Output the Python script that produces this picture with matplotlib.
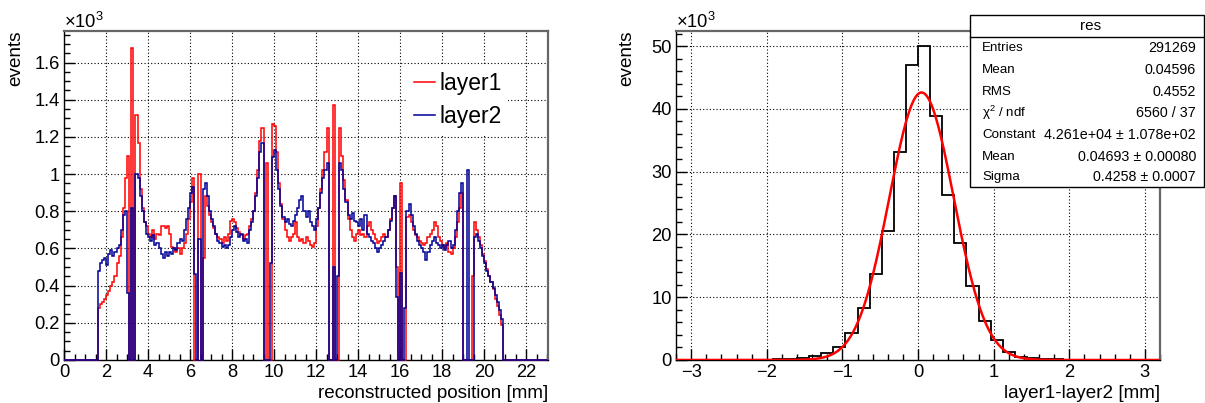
import numpy as np
import matplotlib
matplotlib.use("Agg")
import matplotlib.pyplot as plt
from matplotlib.ticker import MultipleLocator, FuncFormatter
from matplotlib.lines import Line2D
from matplotlib.patches import Rectangle

plt.rcParams["font.family"] = ["Liberation Sans", "DejaVu Sans"]
plt.rcParams["mathtext.fontset"] = "custom"
plt.rcParams["mathtext.rm"] = "Liberation Sans"
plt.rcParams["mathtext.it"] = "Liberation Sans:italic"

# ---------------- data ----------------
# reconstructed position histograms, 0.1 mm bins, in units of 10^3 events
pos_range = (0.0, 23.0)
pos_bin_width = 0.1
pos_first_bin = 1.6  # lower edge of first filled bin

layer1 = [
    0.28, 0.30, 0.31, 0.33,                                              # 1.6-1.9
    0.35, 0.37, 0.40, 0.42, 0.45, 0.52, 0.56, 0.66, 0.82, 0.98,          # 2.0-2.9
    1.10, 0.00, 1.68, 0.00, 1.32, 1.17, 0.92, 0.82, 0.74, 0.72,          # 3.0-3.9
    0.68, 0.66, 0.70, 0.65, 0.68, 0.67, 0.72, 0.72, 0.71, 0.72,          # 4.0-4.9
    0.68, 0.61, 0.60, 0.58, 0.60, 0.57, 0.60, 0.63, 0.68, 0.76,          # 5.0-5.9
    0.85, 0.98, 0.00, 0.00, 1.00, 0.00, 0.55, 0.88, 0.83, 0.78,          # 6.0-6.9
    0.74, 0.71, 0.68, 0.66, 0.65, 0.63, 0.66, 0.64, 0.68, 0.75,          # 7.0-7.9
    0.76, 0.74, 0.71, 0.69, 0.67, 0.65, 0.67, 0.68, 0.72, 0.76,          # 8.0-8.9
    0.80, 0.90, 1.02, 1.18, 1.25, 0.00, 1.06, 0.00, 0.00, 1.27,          # 9.0-9.9
    1.26, 1.12, 0.95, 0.84, 0.76, 0.70, 0.66, 0.64, 0.66, 0.68,          # 10.0-10.9
    0.74, 0.66, 0.64, 0.65, 0.63, 0.66, 0.64, 0.62, 0.61, 0.63,          # 11.0-11.9
    0.72, 0.82, 0.92, 1.02, 1.12, 1.25, 0.00, 0.00, 1.37, 0.00,          # 12.0-12.9
    0.00, 1.25, 1.10, 0.97, 0.86, 0.76, 0.70, 0.66, 0.64, 0.68,          # 13.0-13.9
    0.70, 0.67, 0.68, 0.66, 0.72, 0.74, 0.70, 0.68, 0.65, 0.63,          # 14.0-14.9
    0.64, 0.66, 0.68, 0.66, 0.70, 0.76, 0.82, 0.88, 0.50, 0.00,          # 15.0-15.9
    0.95, 0.00, 0.00, 0.77, 0.78, 0.74, 0.70, 0.67, 0.66, 0.64,          # 16.0-16.9
    0.63, 0.62, 0.63, 0.66, 0.68, 0.70, 0.74, 0.72, 0.66, 0.64,          # 17.0-17.9
    0.62, 0.60, 0.63, 0.58, 0.57, 0.60, 0.66, 0.74, 0.82, 0.90,          # 18.0-18.9
    0.00, 0.00, 0.00, 0.00, 0.45, 0.74, 0.70, 0.66, 0.62, 0.57,          # 19.0-19.9
    0.53, 0.49, 0.45, 0.42, 0.38, 0.33, 0.29, 0.24, 0.19,                # 20.0-20.8
]

layer2 = [
    0.48, 0.52, 0.54, 0.55,                                              # 1.6-1.9
    0.51, 0.57, 0.59, 0.56, 0.58, 0.60, 0.62, 0.70, 0.78, 0.80,          # 2.0-2.9
    0.36, 0.00, 0.82, 0.00, 1.00, 0.98, 0.88, 0.80, 0.74, 0.68,          # 3.0-3.9
    0.66, 0.64, 0.67, 0.62, 0.63, 0.60, 0.57, 0.55, 0.58, 0.56,          # 4.0-4.9
    0.58, 0.57, 0.60, 0.59, 0.63, 0.65, 0.64, 0.70, 0.76, 0.82,          # 5.0-5.9
    0.90, 0.93, 0.46, 0.00, 0.65, 0.00, 0.92, 0.95, 0.88, 0.80,          # 6.0-6.9
    0.76, 0.72, 0.68, 0.64, 0.63, 0.61, 0.62, 0.60, 0.62, 0.66,          # 7.0-7.9
    0.70, 0.72, 0.69, 0.66, 0.68, 0.64, 0.65, 0.63, 0.70, 0.74,          # 8.0-8.9
    0.80, 0.88, 0.98, 1.12, 1.17, 0.00, 0.00, 0.00, 0.52, 1.09,          # 9.0-9.9
    1.13, 1.02, 0.92, 0.83, 0.77, 0.74, 0.76, 0.73, 0.72, 0.75,          # 10.0-10.9
    0.78, 0.82, 0.86, 0.88, 0.80, 0.77, 0.80, 0.74, 0.72, 0.70,          # 11.0-11.9
    0.76, 0.82, 0.90, 0.98, 1.02, 1.06, 0.00, 0.00, 0.50, 0.00,          # 12.0-12.9
    0.45, 1.06, 1.02, 0.92, 0.85, 0.78, 0.76, 0.79, 0.75, 0.74,          # 13.0-13.9
    0.72, 0.76, 0.70, 0.78, 0.68, 0.66, 0.64, 0.63, 0.60, 0.58,          # 14.0-14.9
    0.60, 0.62, 0.64, 0.66, 0.70, 0.75, 0.82, 0.88, 0.34, 0.00,          # 15.0-15.9
    0.47, 0.00, 0.28, 0.80, 0.84, 0.78, 0.72, 0.68, 0.64, 0.62,          # 16.0-16.9
    0.60, 0.58, 0.54, 0.58, 0.62, 0.64, 0.66, 0.63, 0.62, 0.60,          # 17.0-17.9
    0.62, 0.59, 0.62, 0.64, 0.60, 0.62, 0.70, 0.80, 0.90, 0.95,          # 18.0-18.9
    0.00, 0.00, 1.02, 0.00, 0.00, 0.66, 0.68, 0.64, 0.60, 0.56,          # 19.0-19.9
    0.52, 0.48, 0.45, 0.42, 0.39, 0.35, 0.31, 0.27, 0.22,                # 20.0-20.8
]
series_labels = ["layer1", "layer2"]

# residual histogram layer1-layer2: 40 bins over [-3.2, 3.2], in 10^3 events
res_range = (-3.2, 3.2)
res_counts_k = [
    0.000, 0.001, 0.002, 0.003, 0.006, 0.012, 0.025, 0.045, 0.080, 0.150,
    0.270, 0.600, 1.060, 2.100, 4.350, 8.300, 13.70, 20.60, 33.10, 47.00,
    50.00, 38.90, 26.30, 18.70, 11.80, 6.260, 3.130, 1.300, 0.550, 0.300,
    0.150, 0.080, 0.040, 0.020, 0.010, 0.005, 0.002, 0.001, 0.000, 0.000,
]

# gaussian fit result
fit_constant = 4.261e4
fit_mean = 0.04693
fit_sigma = 0.4258

stats_title = "res"
stats_names = ["Entries", "Mean", "RMS", r"χ$^{2}$ / ndf", "Constant", "Mean", "Sigma"]
stats_values = ["291269", "0.04596", "0.4552", "6560 / 37",
                "4.261e+04 ± 1.078e+02", "0.04693 ± 0.00080", "0.4258 ± 0.0007"]

# ---------------- layout helpers ----------------
W, H = 1205, 403
fig = plt.figure(figsize=(W / 100, H / 100), dpi=100)


def rect(l, t, r, b):
    return [l / W, 1 - b / H, (r - l) / W, (b - t) / H]


def fx(x):
    return x / W


def fy(y):
    return 1 - y / H


TICK_FS = 13.2
TITLE_FS = 13.6
red = "#ff0000"
blue = "#000099"


def style_axes(ax, xmaj, xmin, ymaj, ymin, xfmt, yfmt):
    ax.xaxis.set_major_locator(MultipleLocator(xmaj))
    ax.xaxis.set_minor_locator(MultipleLocator(xmin))
    ax.yaxis.set_major_locator(MultipleLocator(ymaj))
    ax.yaxis.set_minor_locator(MultipleLocator(ymin))
    ax.xaxis.set_major_formatter(FuncFormatter(xfmt))
    ax.yaxis.set_major_formatter(FuncFormatter(yfmt))
    ax.tick_params(which="both", direction="in", top=False, right=False, width=1)
    ax.tick_params(which="major", length=8)
    ax.tick_params(which="minor", length=4)
    ax.tick_params(axis="x", which="major", pad=3, labelsize=TICK_FS)
    ax.tick_params(axis="y", which="major", pad=3, labelsize=TICK_FS)
    ax.grid(True, which="major", color="black", linestyle=(0, (1, 2)), lw=0.8)
    ax.set_axisbelow(True)
    for s in ("left", "bottom"):
        ax.spines[s].set_color("black")
        ax.spines[s].set_linewidth(1.0)
    for s in ("top", "right"):
        ax.spines[s].set_color("#666666")
        ax.spines[s].set_linewidth(1.6)


def gfmt(v, _):
    s = f"{v:.4g}"
    if s == "-0":
        s = "0"
    return s.replace("-", "\u2212")


# ---------------- left: reconstructed positions ----------------
ax1 = fig.add_axes(rect(64, 31, 548, 360))
n_bins = int(round((pos_range[1] - pos_range[0]) / pos_bin_width))
pos_edges = np.linspace(pos_range[0], pos_range[1], n_bins + 1)
start = int(round((pos_first_bin - pos_range[0]) / pos_bin_width))
for vals, col in ((layer1, red), (layer2, blue)):
    full = np.zeros(n_bins)
    full[start:start + len(vals)] = vals
    ax1.stairs(full, pos_edges, color=col, lw=1.1, baseline=0, zorder=3, clip_on=False)
ax1.set_xlim(0, 23.04)
ax1.set_ylim(0, 1.77)
style_axes(ax1, 2, 0.5, 0.2, 0.05, gfmt, gfmt)

handles = [Line2D([], [], color=red, lw=1.1), Line2D([], [], color=blue, lw=1.1)]
leg = ax1.legend(handles, series_labels, frameon=True, fontsize=16.5,
                 handlelength=0.9, handletextpad=0.2, labelspacing=0.45,
                 borderpad=0.3, borderaxespad=0, loc="upper left",
                 fancybox=False, facecolor="white", edgecolor="none", framealpha=1,
                 bbox_to_anchor=(fx(407), fy(65)), bbox_transform=fig.transFigure)
leg.set_zorder(5)

fig.text(fx(64), fy(28), "×10$^{3}$", fontsize=TICK_FS, ha="left", va="baseline")
fig.text(fx(16), fy(30), "events", fontsize=TITLE_FS, rotation=90, ha="center", va="top")
fig.text(fx(548), fy(393), "reconstructed position [mm]", fontsize=TITLE_FS,
         ha="right", va="center")

# ---------------- right: residuals ----------------
ax2 = fig.add_axes(rect(676, 31, 1160, 360))
res_edges = np.linspace(res_range[0], res_range[1], len(res_counts_k) + 1)
ax2.stairs(res_counts_k, res_edges, color="black", lw=1.3, baseline=0, zorder=3)
xf = np.linspace(res_range[0], res_range[1], 800)
yf = fit_constant * np.exp(-0.5 * ((xf - fit_mean) / fit_sigma) ** 2) / 1e3
ax2.plot(xf, yf, color=red, lw=1.8, zorder=4)
ax2.set_xlim(*res_range)
ax2.set_ylim(0, 52.4)
style_axes(ax2, 1, 0.2, 10, 2, gfmt, gfmt)

fig.text(fx(676), fy(28), "×10$^{3}$", fontsize=TICK_FS, ha="left", va="baseline")
fig.text(fx(627), fy(30), "events", fontsize=TITLE_FS, rotation=90, ha="center", va="top")
fig.text(fx(1160), fy(393), "layer1-layer2 [mm]", fontsize=TITLE_FS,
         ha="right", va="center")

# statistics box
box_l, box_t, box_r, box_b = 970, 15, 1204, 187
fig.patches.append(Rectangle((fx(box_l), fy(box_b)), fx(box_r - box_l), (box_b - box_t) / H,
                             transform=fig.transFigure, facecolor="white",
                             edgecolor="black", lw=1.0, zorder=10))
fig.add_artist(Line2D([fx(box_l), fx(box_r)], [fy(37), fy(37)], color="black", lw=1.0,
                      transform=fig.transFigure, zorder=11))
fig.text(fx(1091), fy(26), stats_title, fontsize=11, ha="center", va="center", zorder=12)
row_y = [48, 70, 92, 113, 135, 157, 177]
for name, val, yy in zip(stats_names, stats_values, row_y):
    fig.text(fx(982), fy(yy), name, fontsize=9.6, ha="left", va="center", zorder=12)
    fig.text(fx(1196), fy(yy), val, fontsize=10.3, ha="right", va="center", zorder=12)

fig.savefig("out.png", dpi=100)
